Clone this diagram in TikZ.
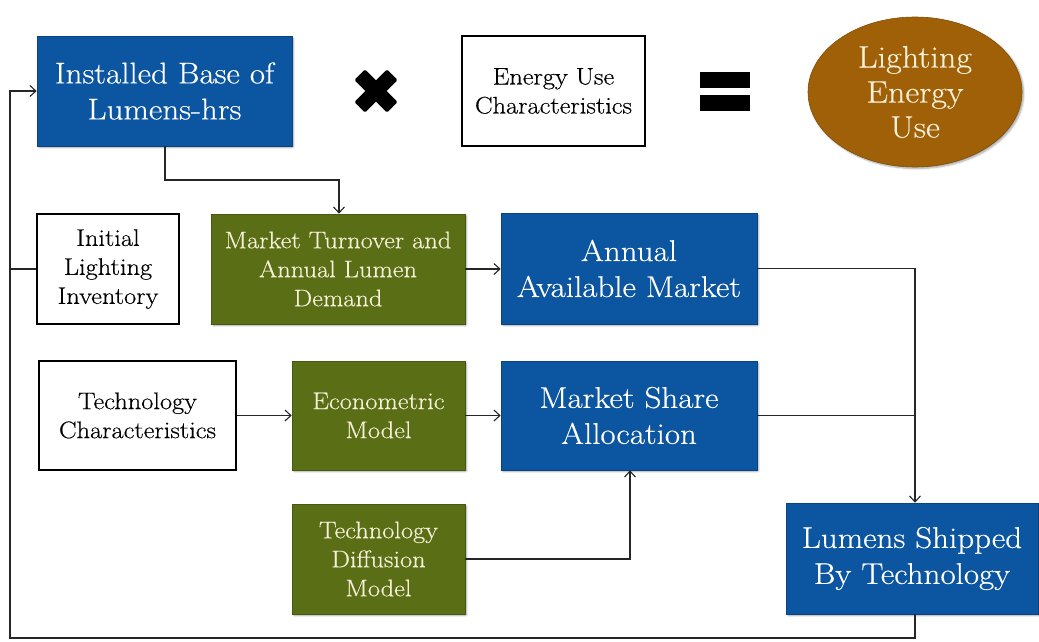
\documentclass[tikz,border=0pt]{standalone}
\usepackage{fontspec}
\setmainfont{Latin Modern Roman}[FakeStretch=1.1, FakeBold=0.4]
\usetikzlibrary{arrows.meta,shadows.blur,shapes.geometric}
\definecolor{boxblue}{RGB}{12,85,160}
\definecolor{boxgreen}{RGB}{90,110,22}
\definecolor{boxbrown}{RGB}{160,96,8}
\definecolor{cream}{RGB}{245,240,215}
\tikzset{
  base/.style={inner sep=0pt, align=center, text width=#1-6pt, minimum width=#1},
  softshadow/.style={blur shadow={shadow blur steps=6, shadow xshift=1.5pt, shadow yshift=-1.5pt, shadow opacity=35, shadow blur extra rounding=1pt}},
  bluebox/.style={base=#1, fill=boxblue, draw=boxblue!80!black, line width=0.6pt, text=white, softshadow,
    font=\fontsize{30}{36}\selectfont},
  greenbox/.style={base=#1, fill=boxgreen, draw=boxgreen!80!black, line width=0.6pt, text=cream, softshadow,
    font=\fontsize{24}{29}\selectfont},
  whitebox/.style={base=#1, fill=white, draw=black, line width=2.2pt, text=black,
    font=\fontsize{24}{29}\selectfont},
  link/.style={draw=black!85, line width=1.3pt},
  arrow/.style={link, -{Straight Barb[length=6pt,width=11pt,line width=1.1pt]}},
}
\begin{document}
\begin{tikzpicture}[x=1pt,y=-1pt]
\useasboundingbox (0,0) rectangle (1039,642);

% top row: installed base x energy use = lighting energy use
\node[bluebox=255pt, minimum height=110pt] (ib) at (164.5,91) {Installed Base of\\Lumens-hrs};
\node[whitebox=183pt, minimum height=110pt] (eu) at (553.5,91) {Energy Use\\Characteristics};
\node[ellipse, fill=boxbrown, draw=boxbrown!80!black, line width=0.6pt, softshadow,
      minimum width=214pt, minimum height=150pt, inner sep=0pt, align=center, text=cream,
      font=\fontsize{31}{35}\selectfont] (leu) at (915,92) {Lighting\\Energy\\Use};

% multiplication sign
\begin{scope}[shift={(376,91)}]
  \fill[black, rounded corners=1.5pt, rotate=45] (-23,-7.5) rectangle (23,7.5);
  \fill[black, rounded corners=1.5pt, rotate=-45] (-23,-7.5) rectangle (23,7.5);
\end{scope}
% equals sign
\fill[black] (700,72) rectangle (750,88);
\fill[black] (700,95) rectangle (750,111);

% second row
\node[whitebox=142pt, minimum height=110pt] (ili) at (108,269) {Initial\\Lighting\\Inventory};
\node[greenbox=254pt, minimum height=110pt] (mt) at (338,269) {Market Turnover and\\Annual Lumen\\Demand};
\node[bluebox=256pt, minimum height=111pt] (aam) at (629,268.5) {Annual\\Available Market};

% third row
\node[whitebox=197pt, minimum height=109pt] (tc) at (137.5,415.5) {Technology\\Characteristics};
\node[greenbox=173pt, minimum height=109pt] (em) at (378.5,415.5) {Econometric\\Model};
\node[bluebox=256pt, minimum height=109pt] (msa) at (629,415.5) {Market Share\\Allocation};

% bottom row
\node[greenbox=173pt, minimum height=110pt] (tdm) at (378.5,559) {Technology\\Diffusion\\Model};
\node[bluebox=252pt, minimum height=111pt] (lst) at (912,558.5) {Lumens Shipped\\By Technology};

% connectors
\coordinate (j1) at (165,180);
\coordinate (j2) at (339,180);
\draw[arrow] (ib.south -| j1) -- (j1) -- (j2) -- (mt.north -| j2);
\draw[arrow] (mt.east) -- (mt.east -| aam.west);
\draw[arrow] (tc.east) -- (em.west);
\draw[arrow] (em.east) -- (msa.west);
\coordinate (d1) at (630,559);
\draw[arrow] (tdm.east) -- (d1) -- (msa.south -| d1);
\coordinate (r1) at (915,268.5);
\coordinate (r2) at (915,415.5);
\draw[arrow] (aam.east) -- (r1) -- (lst.north -| r1);
\draw[link] (msa.east) -- (r2);
\coordinate (b1) at (915,638);
\coordinate (b2) at (10,638);
\coordinate (b3) at (10,91);
\draw[arrow] (lst.south -| b1) -- (b1) -- (b2) -- (b3) -- (ib.west);
\coordinate (b4) at (10,269);
\draw[link] (ili.west) -- (b4);
\end{tikzpicture}
\end{document}
